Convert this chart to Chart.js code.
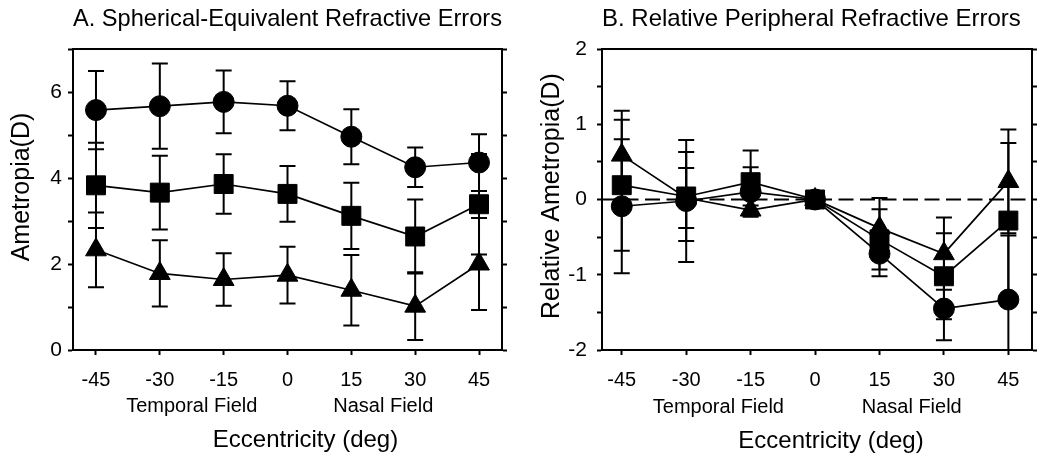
<!DOCTYPE html>
<html><head><meta charset="utf-8">
<script src="https://cdn.jsdelivr.net/npm/chart.js@4/dist/chart.umd.min.js"></script>
<style>
html,body{margin:0;padding:0;background:#fff;}
#wrap{position:relative;width:1050px;height:454px;overflow:hidden;}
.c{position:absolute;top:0;width:525px;height:454px;}
</style></head><body>
<div id="wrap">
<div class="c" style="left:0"><canvas id="cA" width="525" height="454"></canvas></div>
<div class="c" style="left:525px"><canvas id="cB" width="525" height="454"></canvas></div>
</div>
<script>
// ---- data ----
const eccentricity = [-45, -30, -15, 0, 15, 30, 45];
const fieldLabels = ["Temporal Field", "Nasal Field"];
const fieldLabelAt = [-22.5, 22.5];

// Panel A: spherical-equivalent refractive errors (D), mean and SD
const aCircleMean = [5.58, 5.67, 5.77, 5.68, 4.96, 4.25, 4.36];
const aCircleSD   = [0.91, 0.99, 0.73, 0.57, 0.64, 0.46, 0.66];
const aSquareMean = [3.83, 3.66, 3.86, 3.63, 3.12, 2.64, 3.39];
const aSquareSD   = [0.99, 0.86, 0.69, 0.65, 0.77, 0.86, 1.17];
const aTriMean    = [2.33, 1.78, 1.64, 1.74, 1.39, 1.02, 2.00];
const aTriSD      = [0.87, 0.77, 0.61, 0.66, 0.82, 0.79, 1.07];
const aYTicks = [0, 1, 2, 3, 4, 5, 6, 7];
const aYLabels = [0, 2, 4, 6];

// Panel B: relative peripheral refractive errors (D), mean and SD
const bCircleMean = [-0.09, -0.02, 0.10, 0, -0.72, -1.45, -1.33];
const bCircleSD   = [0.89, 0.81, 0.33, 0, 0.30, 0.42, 0.85];
const bSquareMean = [0.19, 0.04, 0.23, 0, -0.53, -1.02, -0.28];
const bSquareSD   = [0.87, 0.59, 0.42, 0, 0.40, 0.57, 1.03];
const bTriMean    = [0.59, 0.02, -0.14, 0, -0.38, -0.72, 0.24];
const bTriSD      = [0.59, 0.40, 0.06, 0, 0.40, 0.48, 0.69];
const bYTicks = [-2, -1.5, -1, -0.5, 0, 0.5, 1, 1.5, 2];
const bYLabels = [-2, -1, 0, 1, 2];

const FONT = '"Liberation Sans", Arial, Helvetica, sans-serif';
Chart.defaults.font.family = FONT;
Chart.defaults.color = '#000';

const errorBarPlugin = {
  id: 'errorBars',
  beforeDatasetsDraw(chart) {
    const {ctx, chartArea, scales} = chart;
    const xs = scales.x, ys = scales.y;
    ctx.save();
    ctx.beginPath();
    ctx.rect(chartArea.left, chartArea.top, chartArea.right - chartArea.left, chartArea.bottom - chartArea.top);
    ctx.clip();
    const o = chart.options.plugins.extra;
    if (o.zeroLine) {
      const y0 = ys.getPixelForValue(0);
      ctx.setLineDash([15, 6.5]);
      ctx.lineWidth = 2;
      ctx.strokeStyle = '#000';
      ctx.beginPath();
      ctx.moveTo(chartArea.left, y0);
      ctx.lineTo(chartArea.right, y0);
      ctx.stroke();
      ctx.setLineDash([]);
    }
    ctx.lineWidth = 2;
    ctx.strokeStyle = '#000';
    const cap = 8;
    chart.data.datasets.forEach(ds => {
      ds.data.forEach((p, i) => {
        const sd = ds.sd[i];
        if (!sd) return;
        const x = xs.getPixelForValue(p.x);
        const yt = ys.getPixelForValue(p.y + sd);
        const yb = ys.getPixelForValue(p.y - sd);
        ctx.beginPath();
        ctx.moveTo(x, yt); ctx.lineTo(x, yb);
        ctx.moveTo(x - cap, yt); ctx.lineTo(x + cap, yt);
        ctx.moveTo(x - cap, yb); ctx.lineTo(x + cap, yb);
        ctx.stroke();
      });
    });
    ctx.restore();
  },
  afterDraw(chart) {
    const {ctx, chartArea, scales} = chart;
    const o = chart.options.plugins.extra;
    const xs = scales.x;
    ctx.save();
    ctx.strokeStyle = '#000';
    ctx.lineWidth = 2;
    ctx.beginPath();
    ctx.moveTo(chartArea.left - 1, chartArea.top);
    ctx.lineTo(chartArea.right + 1, chartArea.top);
    ctx.stroke();
    ctx.fillStyle = '#000';
    ctx.textAlign = 'center';
    ctx.textBaseline = 'alphabetic';
    ctx.font = '20px ' + FONT;
    fieldLabels.forEach((t, i) => {
      ctx.fillText(t, xs.getPixelForValue(fieldLabelAt[i]), o.fieldBase);
    });
    ctx.font = '24px ' + FONT;
    ctx.fillText('Eccentricity (deg)', (chartArea.left + chartArea.right) / 2 + o.xTitleShift, o.xTitleBase);
    ctx.restore();
  }
};

function makeSeries(means, sds, style, radius) {
  return {
    data: eccentricity.map((x, i) => ({x: x, y: means[i]})),
    sd: sds,
    showLine: true,
    borderColor: '#000',
    backgroundColor: '#000',
    borderWidth: 1.7,
    pointStyle: style,
    pointRadius: radius,
    pointHoverRadius: radius,
    pointBackgroundColor: '#000',
    pointBorderColor: '#000',
    pointBorderWidth: 1,
    tension: 0
  };
}

function makeChart(id, p) {
  const tickGrid = {drawOnChartArea: false, drawTicks: true, tickLength: 5, tickColor: '#000', tickWidth: 2};
  const border = {display: true, color: '#000', width: 2};
  return new Chart(document.getElementById(id), {
    type: 'scatter',
    data: {datasets: [
      makeSeries(p.circle, p.circleSD, 'circle', 10.5),
      makeSeries(p.square, p.squareSD, 'rect', 13.4),
      makeSeries(p.tri, p.triSD, 'triangle', 12)
    ]},
    options: {
      responsive: false,
      animation: false,
      events: [],
      layout: {padding: 0},
      plugins: {
        legend: {display: false},
        tooltip: {enabled: false},
        title: {
          display: true, text: p.title, align: 'start', fullSize: false,
          color: '#000', font: {size: 24, weight: 'normal', family: FONT},
          padding: {top: 5.3, bottom: p.titleBottom}
        },
        extra: p.extra
      },
      scales: {
        x: {
          type: 'linear', position: 'bottom', min: p.xMin, max: p.xMax,
          afterBuildTicks: s => { s.ticks = eccentricity.map(v => ({value: v})); },
          afterFit: s => { s.height = 104; },
          ticks: {font: {size: 20}, color: '#000', padding: 13, maxRotation: 0, autoSkip: false,
                  callback: v => String(v)},
          grid: tickGrid, border: border
        },
        y: {
          type: 'linear', position: 'left', min: p.yMin, max: p.yMax,
          afterBuildTicks: s => { s.ticks = p.yTicks.map(v => ({value: v})); },
          afterFit: s => { s.width = p.leftW; },
          ticks: {font: {size: 21}, color: '#000', padding: p.yPad, autoSkip: false,
                  callback: v => (p.yLabels.indexOf(v) >= 0 ? String(v) : '')},
          title: {display: true, text: p.yTitle, color: '#000', font: {size: 25}, padding: {top: p.yTitlePad, bottom: 0}},
          grid: tickGrid, border: border
        },
        yR: {
          type: 'linear', position: 'right', min: p.yMin, max: p.yMax,
          afterBuildTicks: s => { s.ticks = p.yTicks.map(v => ({value: v})); },
          afterFit: s => { s.width = p.rightW; },
          ticks: {display: false},
          grid: tickGrid, border: border
        }
      }
    },
    plugins: [errorBarPlugin]
  });
}

makeChart('cA', {
  title: 'A. Spherical-Equivalent Refractive Errors', titleBottom: 14.9,
  circle: aCircleMean, circleSD: aCircleSD,
  square: aSquareMean, squareSD: aSquareSD,
  tri: aTriMean, triSD: aTriSD,
  xMin: -50.4, xMax: 50.4, yMin: 0, yMax: 7,
  yTicks: aYTicks, yLabels: aYLabels, yTitle: '\u2002\u2002Ametropia(D)', yTitlePad: 7.5, yPad: 6,
  leftW: 73, rightW: 23,
  extra: {zeroLine: false, fieldBase: 412, xTitleBase: 447, xTitleShift: 18}
});

makeChart('cB', {
  title: 'B. Relative Peripheral Refractive Errors', titleBottom: 14.9,
  circle: bCircleMean, circleSD: bCircleSD,
  square: bSquareMean, squareSD: bSquareSD,
  tri: bTriMean, triSD: bTriSD,
  xMin: -49.6, xMax: 50.5, yMin: -2, yMax: 2,
  yTicks: bYTicks, yLabels: bYLabels, yTitle: ' Relative Ametropia(D)', yTitlePad: 11.7, yPad: 10,
  leftW: 77, rightW: 18,
  extra: {zeroLine: true, fieldBase: 413, xTitleBase: 448, xTitleShift: 14}
});
</script>
</body></html>
